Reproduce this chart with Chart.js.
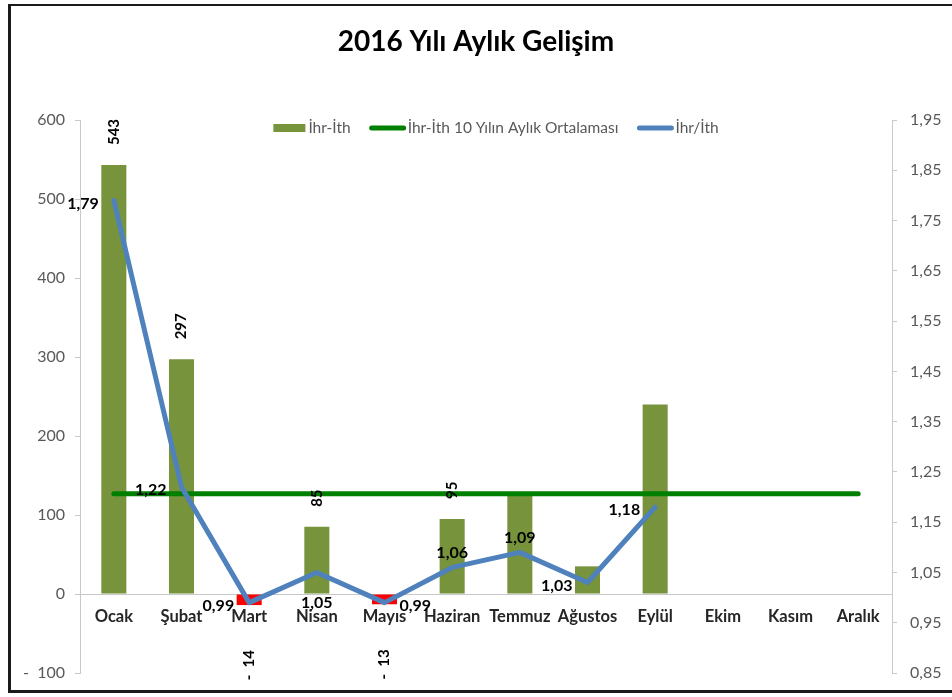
<!DOCTYPE html>
<html>
<head>
<meta charset="utf-8">
<title>2016 Yılı Aylık Gelişim</title>
<script src="https://cdn.jsdelivr.net/npm/chart.js@4.4.0/dist/chart.umd.min.js"></script>
<style>
  html, body { margin: 0; padding: 0; background: #fff; }
  body { width: 952px; height: 697px; position: relative; overflow: hidden; }
  #frame { position: absolute; left: 8px; top: 4px; width: 960px; height: 684px;
           border-top: 2px solid #1a1a1a; border-left: 3px solid #1a1a1a; border-bottom: 3px solid #1a1a1a; }
  #wrap { position: absolute; left: 0; top: 0; width: 952px; height: 697px; }
</style>
</head>
<body>
<div id="frame"></div>
<div id="wrap"><canvas id="gelisimChart"></canvas></div>
<script>
const C_BAR = 'rgb(119, 147, 60)';
const C_NEG = 'rgb(255, 0, 0)';
const C_AVG = 'rgb(0, 128, 0)';
const C_RATIO = 'rgb(79, 129, 189)';
const C_TICK = '#595959';
const C_AXIS = '#c8c8c8';
const FONT = 'Lato, "Open Sans", sans-serif';

const aylar = ['Ocak', 'Şubat', 'Mart', 'Nisan', 'Mayıs', 'Haziran', 'Temmuz', 'Ağustos', 'Eylül', 'Ekim', 'Kasım', 'Aralık'];
// ihracat - ithalat farkı (sol eksen)
const farkValues = [543, 297, -14, 85, -13, 95, 124, 35, 240, null, null, null];
// sadece bu aylarda etiket var
const farkLabelShown = [true, true, true, true, true, true, false, false, false, false, false, false];
// 10 yılın aylık ortalaması (sol eksen)
const ortalamaValues = [127, 127, 127, 127, 127, 127, 127, 127, 127, 127, 127, 127];
// ihracat / ithalat oranı (sağ eksen)
const oranValues = [1.79, 1.22, 0.99, 1.05, 0.99, 1.06, 1.09, 1.03, 1.18, null, null, null];
const oranLabelPos = ['left', 'left', 'left', 'below', 'right', 'above', 'above', 'left', 'left'];

function fmtComma(v) {
    return v.toFixed(2).replace('.', ',');
}

const legendPlugin = {
    id: 'topLegend',
    afterDraw(chart) {
        const ctx = chart.ctx;
        const area = chart.chartArea;
        ctx.save();
        ctx.font = '15.5px ' + FONT;
        ctx.textBaseline = 'middle';
        const items = chart.data.datasets.map(ds => ({
            text: ds.label,
            color: ds.legendColor,
            isBar: ds.type !== 'line'
        }));
        let total = 0;
        items.forEach(it => {
            it.sw = it.isBar ? 32 : 34;
            it.gap = 3;
            it.w = it.sw + it.gap + ctx.measureText(it.text).width;
            total += it.w;
        });
        total += 20 * (items.length - 1);
        let x = (area.left + area.right) / 2 + 10 - total / 2;
        const y = area.top + 8;
        items.forEach(it => {
            if (it.isBar) {
                ctx.fillStyle = it.color;
                ctx.fillRect(x, y - 4, it.sw, 8);
            } else {
                ctx.strokeStyle = it.color;
                ctx.lineWidth = 5;
                ctx.lineCap = 'round';
                ctx.beginPath();
                ctx.moveTo(x + 1, y);
                ctx.lineTo(x + it.sw - 1, y);
                ctx.stroke();
            }
            ctx.fillStyle = C_TICK;
            ctx.textAlign = 'left';
            ctx.fillText(it.text, x + it.sw + it.gap, y);
            x += it.w + 20;
        });
        ctx.restore();
    }
};

const labelPlugin = {
    id: 'valueLabels',
    afterDatasetsDraw(chart) {
        const ctx = chart.ctx;
        ctx.save();
        ctx.fillStyle = '#000';
        ctx.textBaseline = 'middle';

        // bar etiketleri, dikey
        ctx.font = 'bold 15px ' + FONT;
        chart.getDatasetMeta(0).data.forEach((bar, i) => {
            const v = farkValues[i];
            if (v == null || !farkLabelShown[i]) return;
            ctx.save();
            if (v >= 0) {
                ctx.translate(bar.x, bar.y - 20);
                ctx.rotate(-Math.PI / 2);
                ctx.textAlign = 'left';
                ctx.fillText(String(v), 0, 0);
            } else {
                ctx.translate(bar.x, bar.y + 45);
                ctx.rotate(-Math.PI / 2);
                ctx.textAlign = 'right';
                ctx.fillText('-  ' + Math.abs(v), 0, 0);
            }
            ctx.restore();
        });

        // oran etiketleri
        ctx.font = 'bold 16px ' + FONT;
        chart.getDatasetMeta(2).data.forEach((pt, i) => {
            const v = oranValues[i];
            if (v == null) return;
            let x = pt.x, y = pt.y;
            const pos = oranLabelPos[i];
            if (pos === 'left') {
                ctx.textAlign = 'right'; x -= 15; y += 3;
            } else if (pos === 'right') {
                ctx.textAlign = 'left'; x += 15; y += 3;
            } else if (pos === 'above') {
                ctx.textAlign = 'center'; y -= 15;
            } else {
                ctx.textAlign = 'center'; y += 30;
            }
            ctx.fillText(fmtComma(v), x, y);
        });
        ctx.restore();
    }
};

const gelisimChart = new Chart(
        document.getElementById('gelisimChart'),
        {
            type: 'bar',
            data: {
                labels: aylar,
                datasets: [
                    {
                        label: 'İhr-İth',
                        type: 'bar',
                        data: farkValues,
                        backgroundColor: farkValues.map(v => v < 0 ? C_NEG : C_BAR),
                        legendColor: C_BAR,
                        yAxisID: 'y',
                        order: 2,
                        categoryPercentage: 1,
                        barPercentage: 0.37
                    },
                    {
                        label: 'İhr-İth 10 Yılın Aylık Ortalaması',
                        type: 'line',
                        data: ortalamaValues,
                        borderColor: C_AVG,
                        backgroundColor: C_AVG,
                        legendColor: C_AVG,
                        borderWidth: 5,
                        borderCapStyle: 'round',
                        pointRadius: 0,
                        tension: 0,
                        yAxisID: 'y',
                        order: 1
                    },
                    {
                        label: 'İhr/İth',
                        type: 'line',
                        data: oranValues,
                        borderColor: C_RATIO,
                        backgroundColor: C_RATIO,
                        legendColor: C_RATIO,
                        borderWidth: 5,
                        borderJoinStyle: 'round',
                        borderCapStyle: 'round',
                        pointRadius: 0,
                        tension: 0,
                        yAxisID: 'y1',
                        order: 0
                    }
                ]
            },
            options: {
                animation: false,
                responsive: true,
                maintainAspectRatio: false,
                layout: { padding: { left: 0, right: 0, top: 0, bottom: 24 } },
                plugins: {
                    legend: { display: false },
                    tooltip: { enabled: false },
                    title: {
                        display: true,
                        text: '2016 Yılı Aylık Gelişim',
                        color: '#000',
                        font: { family: FONT, size: 28, weight: 'bold', lineHeight: 1.2 },
                        padding: { top: 25, bottom: 61.4 }
                    }
                },
                scales: {
                    x: {
                        position: { y: 0 },
                        offset: true,
                        grid: { drawOnChartArea: false, drawTicks: false },
                        border: { display: true, color: C_AXIS, width: 1 },
                        ticks: {
                            color: '#262626',
                            padding: 13,
                            maxRotation: 0,
                            autoSkip: false,
                            font: { family: FONT, size: 16.5, weight: 'bold' }
                        }
                    },
                    y: {
                        position: 'left',
                        min: -100,
                        max: 600,
                        grid: { drawOnChartArea: false, drawTicks: true, tickLength: 5, color: C_AXIS },
                        border: { display: true, color: C_AXIS },
                        ticks: {
                            stepSize: 100,
                            padding: 10,
                            color: C_TICK,
                            font: { family: FONT, size: 16 },
                            callback: v => v < 0 ? '-  ' + Math.abs(v) : String(v)
                        },
                        afterFit(scale) { scale.width = 80; }
                    },
                    y1: {
                        position: 'right',
                        min: 0.85,
                        max: 1.95,
                        grid: { drawOnChartArea: false, drawTicks: true, tickLength: 5, color: C_AXIS },
                        border: { display: true, color: C_AXIS },
                        ticks: {
                            stepSize: 0.1,
                            padding: 13,
                            color: C_TICK,
                            font: { family: FONT, size: 16 },
                            callback: v => fmtComma(v)
                        },
                        afterFit(scale) { scale.width = 60; }
                    }
                }
            },
            plugins: [labelPlugin, legendPlugin]
        });
</script>
</body>
</html>
